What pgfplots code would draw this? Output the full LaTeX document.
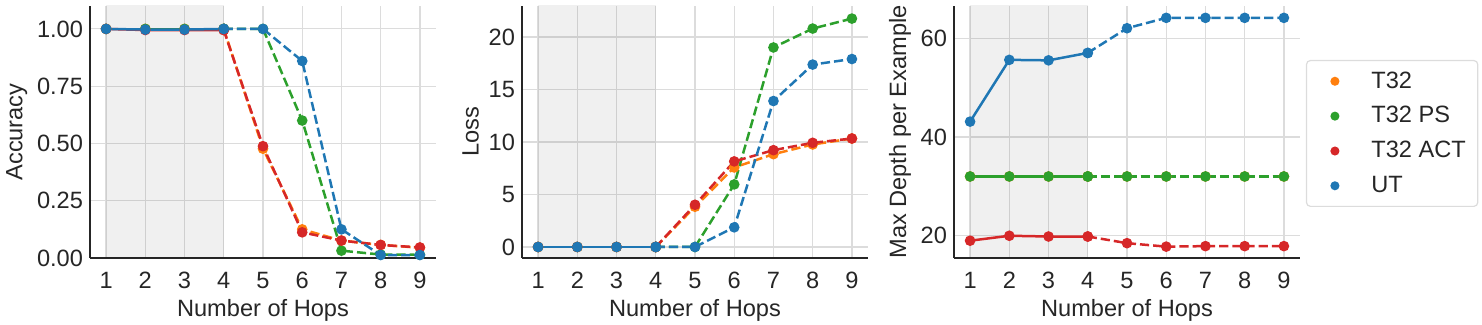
\documentclass[border=0pt]{standalone}
\usepackage{fontspec}
\setmainfont{Liberation Sans}
\usepackage{pgfplots}
\pgfplotsset{compat=1.18}

\definecolor{cT}{HTML}{FF7F0E}
\definecolor{cPS}{HTML}{2CA02C}
\definecolor{cACT}{HTML}{D62728}
\definecolor{cUT}{HTML}{1F77B4}
\definecolor{txt}{HTML}{262626}
\definecolor{gridc}{HTML}{DCDCDC}

\pgfplotsset{
  panel/.style={
    scale only axis, width=173pt, height=126pt,
    axis x line*=bottom, axis y line*=left,
    axis line style={-, txt, line width=0.9pt},
    xmin=0.59, xmax=9.41, xtick={1,...,9},
    grid=major, grid style={gridc, line width=0.6pt},
    major tick length=0pt,
    /pgf/number format/assume math mode=true,
    tick label style={font=\fontsize{11.8}{13}\selectfont, text=txt},
    label style={font=\fontsize{11.8}{13}\selectfont, text=txt},
    xticklabel style={yshift=-3.5pt},
    xlabel={Number of Hops},
    xlabel style={yshift=1.5pt},
    ylabel style={at={(ticklabel cs:0.5,-2pt)}},
    every axis plot/.append style={line width=1.25pt, mark=*, mark size=2pt,
      mark options={solid}},
  },
  dsh/.style={dash pattern=on 4.6pt off 2pt},
  shade/.style={draw=none, fill=black, fill opacity=0.06, mark=none, forget plot},
}

\begin{document}
\begin{tikzpicture}
\useasboundingbox (0,0) rectangle (741pt,162.5pt);

% accuracy
\begin{axis}[panel, at={(45pt,33.5pt)}, anchor=south west,
  ymin=0, ymax=1.10, ytick={0,0.25,0.5,0.75,1},
  yticklabel style={/pgf/number format/.cd, fixed, fixed zerofill, precision=2},
  ylabel={Accuracy}]
\addplot[shade] coordinates {(1,-1) (4,-1) (4,2) (1,2)} -- cycle;
\addplot[cT] coordinates {(1,1) (2,1) (3,1) (4,1)};
\addplot[cT, dsh] coordinates {(4,1) (5,0.477) (6,0.125) (7,0.076) (8,0.057) (9,0.045)};
\addplot[cPS] coordinates {(1,1) (2,1) (3,1) (4,1)};
\addplot[cPS, dsh] coordinates {(4,1) (5,1) (6,0.60) (7,0.032) (8,0.015) (9,0.014)};
\addplot[cACT] coordinates {(1,1) (2,0.995) (3,0.995) (4,0.995)};
\addplot[cACT, dsh] coordinates {(4,0.995) (5,0.488) (6,0.112) (7,0.076) (8,0.057) (9,0.046)};
\addplot[cUT] coordinates {(1,1) (2,0.997) (3,0.997) (4,1)};
\addplot[cUT, dsh] coordinates {(4,1) (5,1) (6,0.86) (7,0.125) (8,0.013) (9,0.013)};
\end{axis}

% loss
\begin{axis}[panel, at={(261pt,33.5pt)}, anchor=south west,
  ymin=-1.05, ymax=22.95, ytick={0,5,10,15,20},
  ylabel={Loss}]
\addplot[shade] coordinates {(1,-5) (4,-5) (4,30) (1,30)} -- cycle;
\addplot[cT] coordinates {(1,0) (2,0) (3,0) (4,0)};
\addplot[cT, dsh] coordinates {(4,0) (5,3.83) (6,7.57) (7,8.84) (8,9.76) (9,10.33)};
\addplot[cPS] coordinates {(1,0) (2,0) (3,0) (4,0)};
\addplot[cPS, dsh] coordinates {(4,0) (5,0) (6,5.96) (7,19.0) (8,20.8) (9,21.75)};
\addplot[cACT] coordinates {(1,0) (2,0) (3,0) (4,0)};
\addplot[cACT, dsh] coordinates {(4,0) (5,4.02) (6,8.15) (7,9.22) (8,9.92) (9,10.33)};
\addplot[cUT] coordinates {(1,0) (2,0) (3,0) (4,0)};
\addplot[cUT, dsh] coordinates {(4,0) (5,0) (6,1.87) (7,13.9) (8,17.37) (9,17.9)};
\end{axis}

% max depth
\begin{axis}[panel, at={(477pt,33.5pt)}, anchor=south west,
  ymin=15.5, ymax=66.5, ytick={20,40,60},
  ylabel={Max Depth per Example},
  legend style={at={(1.017,0.786)}, anchor=north west, draw=gridc,
    rounded corners=2pt, fill=white, line width=0.6pt,
    inner xsep=4pt, inner ysep=3.5pt, row sep=3.7pt,
    font=\fontsize{11.8}{13}\selectfont, text=txt},
  legend cell align=left,
  legend image code/.code={%
    \path (-9.6pt,0pt) (15.6pt,0pt);
    \draw[#1] plot[only marks, mark size=1.6pt] coordinates {(0pt,0pt)};},
  ]
\addplot[shade] coordinates {(1,0) (4,0) (4,80) (1,80)} -- cycle;
\addplot[cT] coordinates {(1,32) (2,32) (3,32) (4,32)};
\addlegendentry{T32}
\addplot[cT, dsh, forget plot] coordinates {(4,32) (5,32) (6,32) (7,32) (8,32) (9,32)};
\addplot[cPS] coordinates {(1,32) (2,32) (3,32) (4,32)};
\addlegendentry{T32 PS}
\addplot[cPS, dsh, forget plot] coordinates {(4,32) (5,32) (6,32) (7,32) (8,32) (9,32)};
\addplot[cACT] coordinates {(1,19.0) (2,20.0) (3,19.85) (4,19.85)};
\addlegendentry{T32 ACT}
\addplot[cACT, dsh, forget plot] coordinates {(4,19.85) (5,18.5) (6,17.8) (7,17.9) (8,17.9) (9,17.9)};
\addplot[cUT] coordinates {(1,43.1) (2,55.6) (3,55.5) (4,57.0)};
\addlegendentry{UT}
\addplot[cUT, dsh, forget plot] coordinates {(4,57.0) (5,62.0) (6,64.1) (7,64.1) (8,64.1) (9,64.1)};
\end{axis}
\end{tikzpicture}
\end{document}
